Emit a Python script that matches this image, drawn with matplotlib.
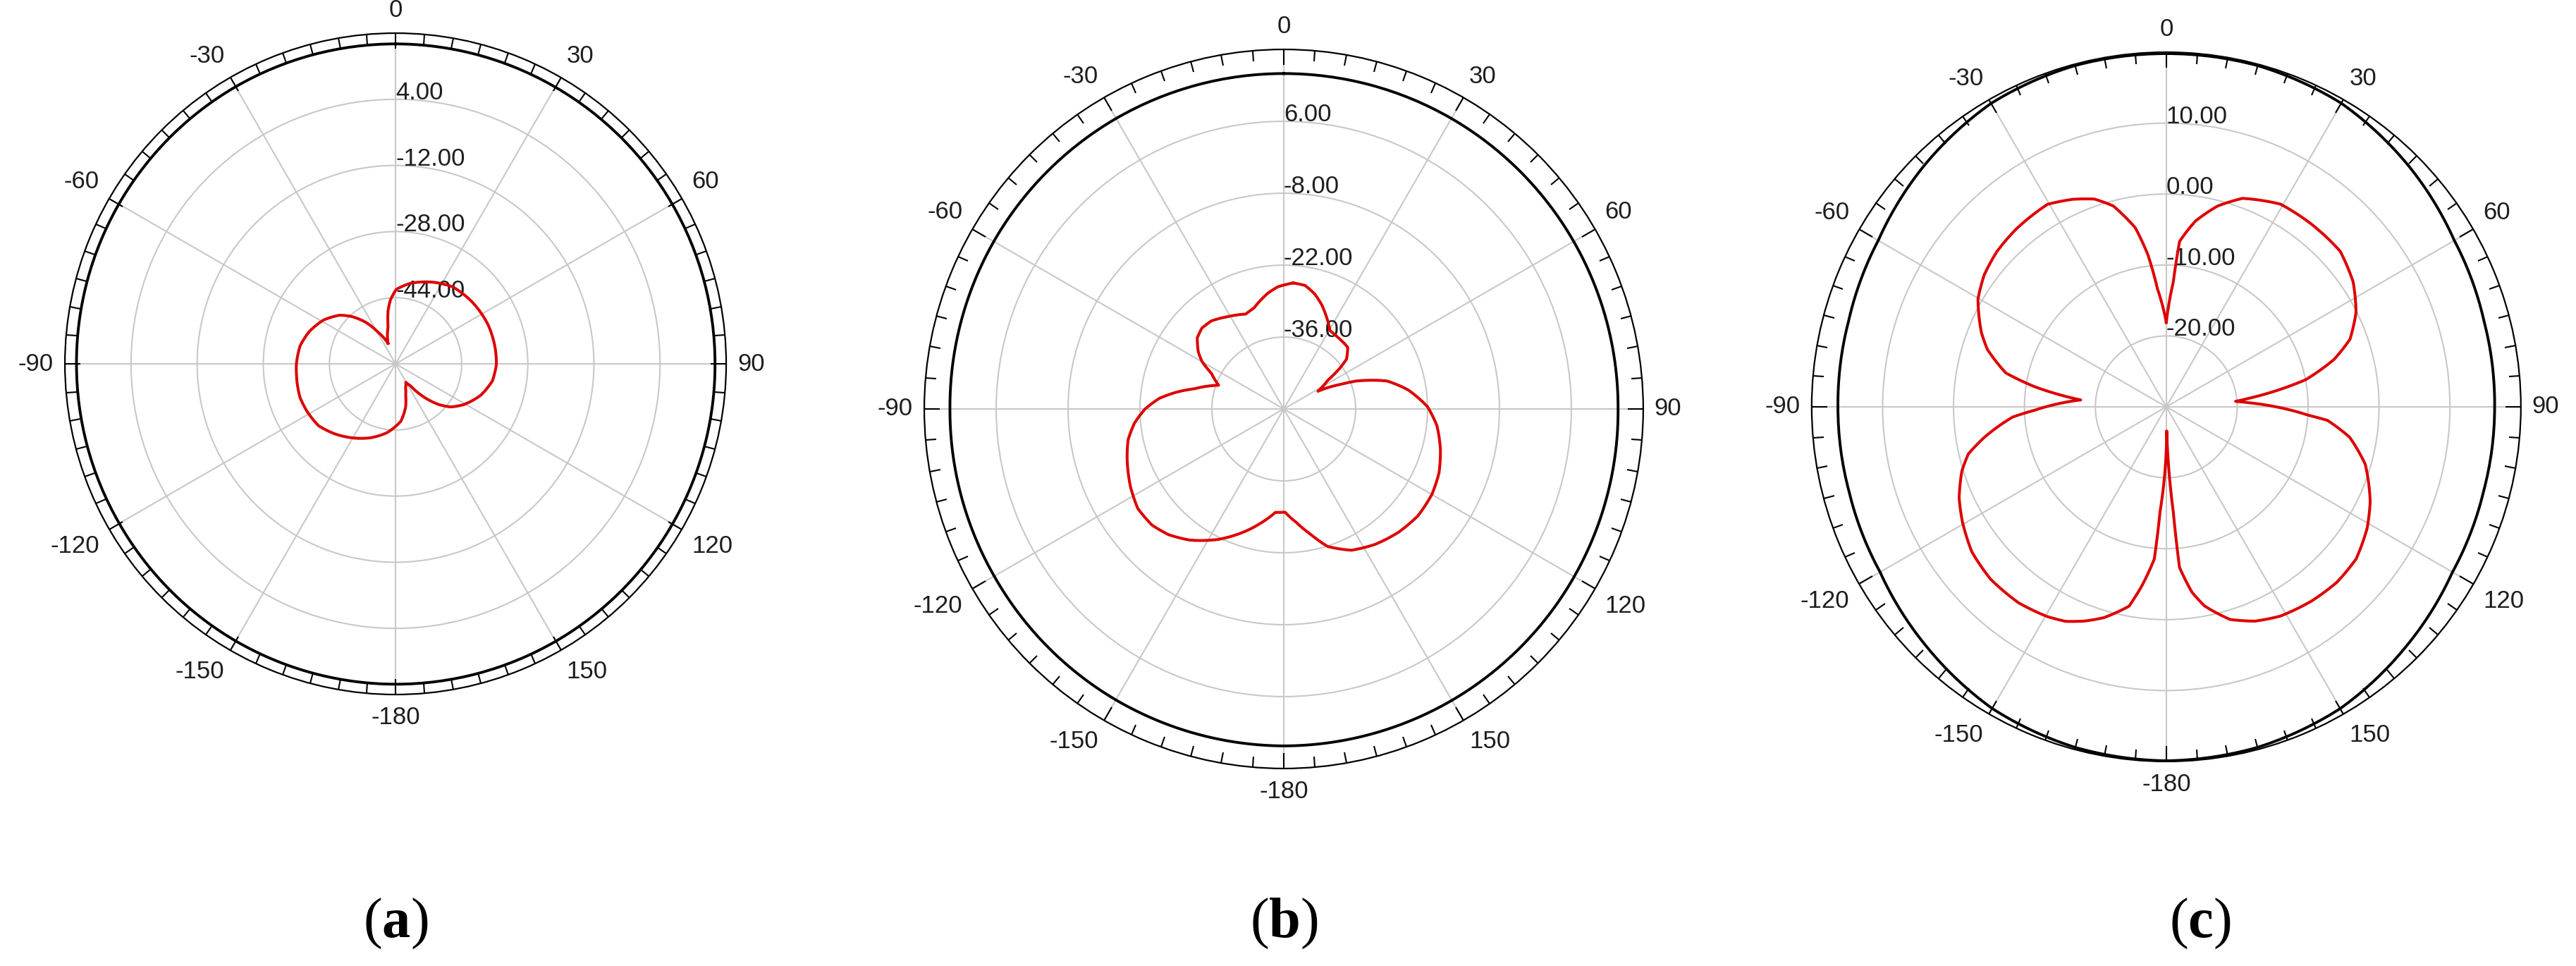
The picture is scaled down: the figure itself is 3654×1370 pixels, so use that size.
import numpy as np
import matplotlib.pyplot as plt

plt.rcParams['mathtext.fontset'] = 'custom'
plt.rcParams['mathtext.rm'] = 'Liberation Serif'
plt.rcParams['mathtext.bf'] = 'Liberation Serif:bold'

## the data (angle in degrees, gain in dB)
ang_labels = ['0', '30', '60', '90', '120', '150', '-180', '-150', '-120', '-90', '-60', '-30']

# (a)
a_rings = [-44, -28, -12, 4]
a_red_ang = [-20.2, -11.5, -8.0, -4.6, 0.5, 10.4, 25.2, 36.6, 50.4, 67.0, 79.7, 90.4, 100.0,
             110.1, 120.6, 128.1, 133.4, 139.3, 145.9, 151.0, 157.3, 162.1, 166.8, 174.6,
             -172.8, -161.2, -149.3, -139.2, -128.8, -118.3, -109.4, -95.8, -90.4, -79.3,
             -69.5, -58.7, -48.9, -42.8, -35.7, -29.3]
a_red_db = [-54.7, -50.9, -47.0, -44.5, -42.0, -40.2, -38.2, -36.8, -36.2, -35.7, -35.6, -35.6, -36.2,
            -38.0, -40.7, -43.1, -45.7, -49.3, -53.6, -54.9, -53.7, -52.0, -49.3, -46.1,
            -43.2, -41.1, -39.2, -37.6, -36.1, -35.7, -35.5, -35.9, -36.0, -36.5,
            -37.7, -39.6, -42.1, -44.4, -47.6, -51.1]
a_blk_ang = [0, 30, 60, 90, 120, 150, 180, -150, -120, -90, -60, -30]
a_blk_db = [17.4, 17.3, 17.3, 17.3, 17.4, 17.5, 17.5, 17.4, 17.2, 17.2, 17.3, 17.4]

# (b)
b_rings = [-36, -22, -8, 6]
b_red_ang = [4.3, 9.8, 15.0, 20.0, 24.8, 30.6, 36.4, 46.1, 51.6, 54.1, 57.0, 62.6, 64.1, 66.8,
             68.9, 74.8, 81.3, 89.1, 96.2, 104.4, 112.4, 119.9, 128.5, 137.0, 146.0, 154.4,
             162.3, 167.8, 173.5, 179.3, -175.4, -168.8, -161.4, -153.4, -144.4, -137.5,
             -131.4, -124.3, -117.1, -107.6, -101.2, -95.4, -90.0, -85.1, -81.3, -77.2,
             -70.0, -63.8, -59.9, -56.3, -50.6, -45.4, -39.5, -31.1, -21.8, -16.4, -7.6, -2.8]
b_red_db = [-25.4, -25.6, -26.8, -28.4, -30.2, -32.3, -32.5, -32.7, -34.4, -36.6, -39.8, -42.5,
            -40.5, -37.7, -34.9, -29.2, -25.5, -22.0, -20.0, -18.5, -17.3, -16.7, -16.6, -17.2,
            -18.2, -19.5, -21.9, -25.0, -27.7, -29.9, -29.8, -27.4, -24.6, -21.6, -18.6, -16.8,
            -15.8, -15.6, -16.5, -18.0, -19.1, -20.8, -23.0, -25.7, -28.7, -32.2,
            -36.5, -34.3, -31.6, -30.0, -28.2, -27.6, -27.8, -29.0, -30.1, -29.5, -27.2, -26.2]
b_blk_ang = [0, 30, 60, 90, 120, 150, 180, -150, -120, -90, -60, -30]
b_blk_db = [15.3, 15.3, 15.2, 15.1, 15.3, 15.5, 15.6, 15.4, 15.1, 15.0, 15.2, 15.3]

# (c)
c_rings = [-20, -10, 0, 10]
c_red_ang = [0.0, 3.2, 4.6, 8.9, 14.3, 20.1, 29.4, 38.6, 48.2, 56.2, 63.5, 69.8, 74.2, 79.0,
             84.1, 85.5, 87.2, 93.4, 94.8, 99.4, 106.1, 114.9, 121.2, 128.7, 135.8, 143.1,
             151.4, 157.5, 163.3, 169.1, 172.1, 175.3, 176.2, 179.0, -176.6, -175.5, -172.2,
             -169.4, -163.5, -159.2, -154.9, -150.4, -143.0, -134.4, -126.7, -119.4, -113.7,
             -107.4, -103.4, -99.5, -93.8, -91.5, -85.4, -81.3, -78.1, -72.2, -68.1, -60.2,
             -54.1, -47.5, -40.3, -30.4, -24.3, -19.1, -14.8, -9.8, -6.9, -4.3]
c_red_db = [-18.1, -12.4, -6.6, -3.5, -0.8, 1.3, 2.8, 2.9, 2.9, 1.7, -0.1, -2.4, -5.4, -10.0,
            -18.3, -20.2, -18.3, -9.9, -7.2, -3.8, -0.8, 1.7, 3.1, 4.3, 4.5, 4.2,
            3.6, 2.7, 1.3, -1.4, -3.6, -7.3, -15.2, -26.6, -15.2, -8.5, -4.5,
            -1.4, 1.0, 2.3, 3.4, 4.0, 4.6, 4.7, 4.2, 3.0, 1.9,
            0.2, -1.3, -4.0, -8.3, -11.4, -17.9, -11.2, -6.9, -3.5, -1.9, 0.6,
            1.7, 2.4, 2.8, 3.1, 2.1, 1.0, -0.7, -4.4, -8.4, -13.3]
c_blk_ang = [0, 15, 30, 45, 60, 75, 90, 105, 120, 135, 150, 165, 180,
             -165, -150, -135, -120, -105, -90, -75, -60, -45, -30, -15]
c_blk_db = [19.8, 19.8, 19.4, 18.2, 16.9, 16.4, 16.3, 16.3, 16.6, 17.8, 19.1, 19.7, 19.9,
            19.7, 19.1, 17.8, 16.6, 16.3, 16.3, 16.4, 16.9, 18.2, 19.4, 19.8]

panels = [
    ([0.0252, 0.281, 0.2567, 0.6847], a_rings, a_red_ang, a_red_db, a_blk_ang, a_blk_db, 'a', 0.1535),
    ([0.3588, 0.2044, 0.2791, 0.7445], b_rings, b_red_ang, b_red_db, b_blk_ang, b_blk_db, 'b', 0.4985),
    ([0.7033, 0.2117, 0.2753, 0.7343], c_rings, c_red_ang, c_red_db, c_blk_ang, c_blk_db, 'c', 0.8540),
]

# alignment of the angle labels, so that the text sits just outside the ring
lab_align = {0: ('center', 'bottom'), 30: ('left', 'bottom'), 60: ('left', 'bottom'),
             90: ('left', 'center'), 120: ('left', 'top'), 150: ('left', 'top'),
             180: ('center', 'top'), 210: ('right', 'top'), 240: ('right', 'top'),
             270: ('right', 'center'), 300: ('right', 'bottom'), 330: ('right', 'bottom')}


def closed(ang, val):
    # close the loop and unwrap so the arcs run the short way round
    th = np.unwrap(np.deg2rad(list(ang) + [ang[0]]))
    return th, list(val) + [val[0]]


fig = plt.figure(figsize=(36.54, 13.70), dpi=100)

for rect, rings, r_ang, r_db, k_ang, k_db, tag, tag_x in panels:
    ax = fig.add_axes(rect, projection='polar')
    ax.set_theta_zero_location('N')
    ax.set_theta_direction(-1)

    step = rings[1] - rings[0]
    ax.set_rlim(rings[0] - step, 20)
    ax.set_yticks(rings)
    ax.set_yticklabels([])

    thetas = np.arange(0, 360, 30)
    ax.set_thetagrids(thetas, ang_labels,
                      fontsize=25, fontfamily='Liberation Sans', color='#1e1e1e')
    ax.set_xticks(np.deg2rad(np.arange(0, 360, 5)), minor=True)
    ax.tick_params(axis='x', which='major', direction='in', length=16, width=1.5,
                   pad=4.5, tick1On=False, tick2On=True, color='black')
    ax.tick_params(axis='x', which='minor', direction='in', length=11, width=1.5,
                   tick1On=False, tick2On=True, color='black')
    for t, lab in zip(thetas, ax.get_xticklabels()):
        lab.set_ha(lab_align[t][0])
        lab.set_va(lab_align[t][1])

    ax.grid(True, which='major', color='#c8c8c8', linewidth=1.5)
    ax.spines['polar'].set_linewidth(1.6)
    ax.spines['polar'].set_color('black')

    # radial labels along the 0 deg line
    for v in rings:
        ax.text(0, v, '%.2f' % v, ha='left', va='baseline', fontsize=25,
                fontfamily='Liberation Sans', color='#1e1e1e', zorder=4)

    # black trace
    th, rv = closed(k_ang, k_db)
    blk, = ax.plot(th, rv, color='black', linewidth=2.8, zorder=3)

    # red trace
    th, rv = closed(r_ang, r_db)
    red, = ax.plot(th, rv, color='#dd0000', linewidth=2.9, zorder=5)

    # let the polar transform draw the segments as arcs, not chords
    blk.get_path()._interpolation_steps = 40
    red.get_path()._interpolation_steps = 12

    fig.text(tag_x, 0.044, r'($\mathbf{' + tag + '}$)', ha='center', va='center',
             fontsize=58, fontfamily='Liberation Serif')

fig.savefig('out.png', dpi=100)
